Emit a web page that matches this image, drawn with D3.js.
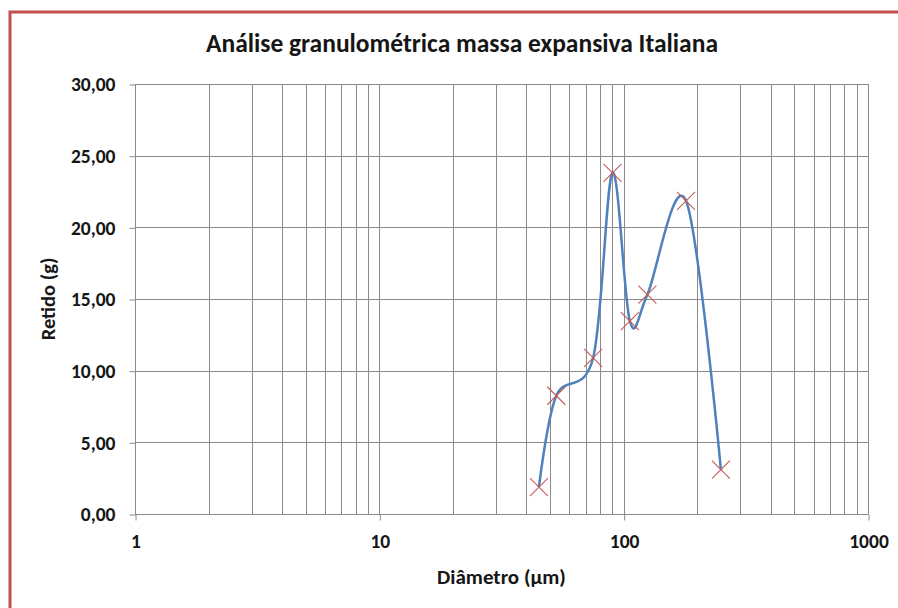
<!DOCTYPE html>
<html>
<head>
<meta charset="utf-8">
<script src="https://cdn.jsdelivr.net/npm/d3@7"></script>
<style>
  html, body { margin: 0; padding: 0; background: #fff; }
  svg { display: block; }
</style>
</head>
<body>
<svg id="chart" width="898" height="608"></svg>
<script>
// Sieve openings (µm) and retained mass (g)
const diameters = [45, 53, 75, 90, 106, 125, 180, 250];
const retained = [1.88, 8.25, 10.9, 23.8, 13.45, 15.3, 21.85, 3.1];
const yTicks = [0, 5, 10, 15, 20, 25, 30];
const xTicks = [1, 10, 100, 1000];

const title = "Análise granulométrica massa expansiva Italiana";
const xTitle = "Diâmetro (µm)";
const yTitle = "Retido (g)";

const W = 898, H = 608;
const plot = { left: 135, right: 868, top: 84, bottom: 514 };
const font = "Calibri, Carlito, Lato, sans-serif";
const ink = "#161616";
const gridColor = "#8a8a8a";

const svg = d3.select("#chart");

// outer frame
svg.append("rect")
  .attr("x", 10).attr("y", 12)
  .attr("width", W + 20).attr("height", H + 20)
  .attr("fill", "#fff")
  .attr("stroke", "#c0504d").attr("stroke-width", 3);

const x = d3.scaleLog().domain([1, 1000]).range([plot.left, plot.right]);
const y = d3.scaleLinear().domain([0, 30]).range([plot.bottom, plot.top]);

const grid = svg.append("g").attr("stroke", gridColor).attr("stroke-width", 1);

// vertical gridlines: every 1..9 per decade
const xGrid = [];
for (let d = 1; d < 1000; d *= 10) for (let k = 1; k < 10; k++) xGrid.push(d * k);
xGrid.push(1000);
grid.selectAll("line.v").data(xGrid).join("line")
  .attr("x1", d => Math.round(x(d)) + 0.5).attr("x2", d => Math.round(x(d)) + 0.5)
  .attr("y1", plot.top).attr("y2", plot.bottom);

// horizontal gridlines
grid.selectAll("line.h").data(yTicks).join("line")
  .attr("x1", plot.left).attr("x2", plot.right)
  .attr("y1", d => Math.round(y(d)) + 0.5).attr("y2", d => Math.round(y(d)) + 0.5);

// axes
const yAxis = d3.axisLeft(y).tickValues(yTicks).tickSize(6).tickPadding(14)
  .tickFormat(d => d3.format(".2f")(d).replace(".", ","));
const gy = svg.append("g").attr("transform", `translate(${plot.left + 0.5},0.5)`).call(yAxis);
gy.select(".domain").attr("stroke", gridColor).attr("d", `M0,${plot.top}V${plot.bottom}`);
gy.selectAll(".tick line").attr("stroke", gridColor);
gy.selectAll(".tick text")
  .attr("font-family", font).attr("font-weight", "bold").attr("font-size", 19.5)
  .attr("fill", ink);

const xAxis = d3.axisBottom(x).tickValues(xTicks).tickSize(6).tickPadding(14)
  .tickFormat(d3.format("d"));
const gx = svg.append("g").attr("transform", `translate(0.5,${plot.bottom + 0.5})`).call(xAxis);
gx.select(".domain").attr("stroke", gridColor).attr("d", `M${plot.left},0H${plot.right}`);
gx.selectAll(".tick line").attr("stroke", gridColor);
gx.selectAll(".tick text")
  .attr("font-family", font).attr("font-weight", "bold").attr("font-size", 19.5)
  .attr("fill", ink);

// smoothed series line
const pts = diameters.map((d, i) => [x(d), y(retained[i])]);
svg.append("path")
  .attr("d", d3.line().curve(d3.curveCardinal.tension(0))(pts))
  .attr("fill", "none")
  .attr("stroke", "#4f81bd").attr("stroke-width", 2.5);

// cross markers
const s = 9;
const markers = svg.append("g").attr("stroke", "#c85a57").attr("stroke-width", 1.1);
markers.selectAll("path").data(pts).join("path")
  .attr("d", p => `M${p[0] - s},${p[1] - s}L${p[0] + s},${p[1] + s}M${p[0] - s},${p[1] + s}L${p[0] + s},${p[1] - s}`);

// titles
svg.append("text")
  .attr("x", 462).attr("y", 52).attr("text-anchor", "middle")
  .attr("font-family", font).attr("font-weight", "bold").attr("font-size", 25.5)
  .attr("fill", ink).text(title);

svg.append("text")
  .attr("x", (plot.left + plot.right) / 2).attr("y", 584).attr("text-anchor", "middle")
  .attr("font-family", font).attr("font-weight", "bold").attr("font-size", 21)
  .attr("fill", ink).text(xTitle);

svg.append("text")
  .attr("transform", `translate(55,${(plot.top + plot.bottom) / 2}) rotate(-90)`)
  .attr("text-anchor", "middle")
  .attr("font-family", font).attr("font-weight", "bold").attr("font-size", 20.5)
  .attr("fill", ink).text(yTitle);
</script>
</body>
</html>
